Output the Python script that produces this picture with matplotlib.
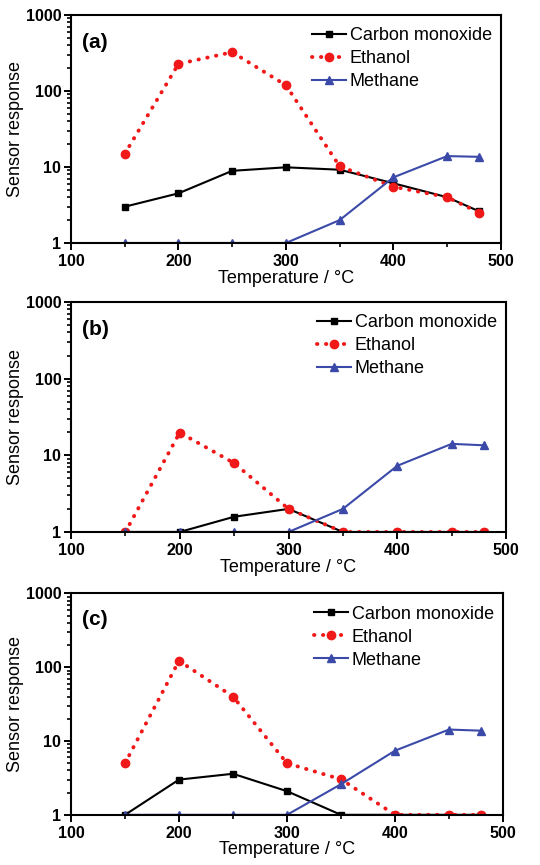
import matplotlib
matplotlib.use("Agg")
import matplotlib.pyplot as plt
from matplotlib.ticker import MultipleLocator, LogLocator, NullFormatter, FixedLocator

plt.rcParams['font.family'] = ['Liberation Sans', 'DejaVu Sans']

temps = [150, 200, 250, 300, 350, 400, 450, 480]

# panel (a)
co_a = [3.0, 4.5, 8.9, 9.9, 9.2, 6.1, 4.0, 2.6]
eth_a = [14.9, 227, 324, 119, 10.2, 5.5, 4.0, 2.5]
met_a = [1, 1, 1, 1, 2.0, 7.3, 13.9, 13.6]

# panel (b)
co_b = [1, 1, 1.58, 2.0, 1, 1, 1, 1]
eth_b = [1, 19.8, 7.9, 2.0, 1, 1, 1, 1]
met_b = [1, 1, 1, 1, 2.0, 7.3, 14.1, 13.5]

# panel (c)
co_c = [1, 3.0, 3.6, 2.09, 1, 1, 1, 1]
eth_c = [5.0, 122, 40, 5.0, 3.03, 1, 1, 1]
met_c = [1, 1, 1, 1, 2.6, 7.4, 14.3, 13.8]

panels = [
    ("(a)", co_a, eth_a, met_a, [0.1315, 0.7191, 0.796, 0.2636], 0.5),
    ("(b)", co_b, eth_b, met_b, [0.1315, 0.3850, 0.8056, 0.2659], 0.5),
    ("(c)", co_c, eth_c, met_c, [0.1315, 0.0580, 0.800, 0.2560], 0.0),
]

red = "#f01818"
blue = "#3b4aa8"

fig = plt.figure(figsize=(5.4, 8.65), dpi=100)

for tag, co, eth, met, pos, xpad in panels:
    ax = fig.add_axes(pos)
    ax.plot(temps, co, color="black", lw=1.5, marker="s", ms=5, label="Carbon monoxide")
    ax.plot(temps, eth, color=red, lw=2.8, ls=(0, (0.1, 2.2)), dash_capstyle="round",
            marker="o", ms=6, label="Ethanol")
    ax.plot(temps, met, color=blue, lw=1.5, marker="^", ms=6, label="Methane")

    ax.set_yscale("log")
    ax.set_ylim(1, 1000)
    ax.set_xlim(100, 500)
    ax.xaxis.set_major_locator(MultipleLocator(100))
    ax.xaxis.set_minor_locator(MultipleLocator(50))
    ax.yaxis.set_major_locator(FixedLocator([1, 10, 100, 1000]))
    ax.yaxis.set_major_formatter(plt.FuncFormatter(lambda v, p: "%d" % v))
    ax.yaxis.set_minor_locator(LogLocator(base=10, subs=range(2, 10)))
    ax.yaxis.set_minor_formatter(NullFormatter())

    ax.tick_params(which="major", direction="out", length=5, width=1.4,
                   labelsize=11.5, top=False, right=False)
    ax.tick_params(axis="x", which="major", pad=3)
    ax.tick_params(axis="y", which="major", pad=2)
    ax.tick_params(which="minor", direction="out", length=3, width=1.2,
                   top=False, right=False)
    for lab in ax.get_xticklabels() + ax.get_yticklabels():
        lab.set_fontweight("bold")
    for sp in ax.spines.values():
        sp.set_linewidth(1.5)

    ax.set_ylabel("Sensor response", fontsize=13, labelpad=1)
    ax.set_xlabel("Temperature / °C", fontsize=13, labelpad=xpad)
    ax.text(0.026, 0.88, tag, transform=ax.transAxes, fontsize=15,
            fontweight="bold", va="center", ha="left")
    ax.legend(loc="upper right", bbox_to_anchor=(1.0, 0.985), frameon=False,
              fontsize=13, handlelength=1.9, handletextpad=0.2,
              labelspacing=0.33, borderaxespad=0.3, borderpad=0.2)

fig.savefig("out.png", dpi=100)
